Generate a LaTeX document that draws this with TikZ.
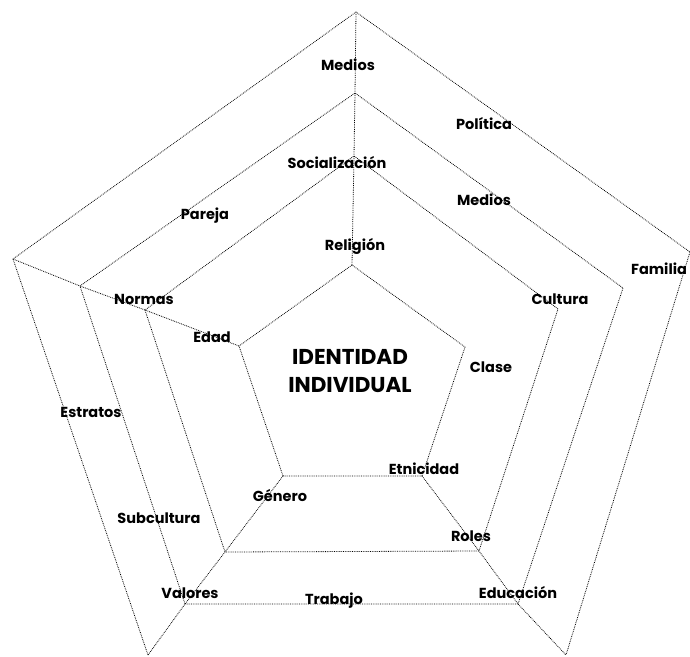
\documentclass[tikz,border=0pt]{standalone}
\usepackage{fontspec}
\setmainfont{Poppins}

\tikzset{
  ring/.style={densely dotted, line width=0.8pt},
  lbl/.style={font=\bfseries\fontsize{14.5}{16}\selectfont, inner sep=0pt},
  core/.style={font=\bfseries\fontsize{21.5}{28}\selectfont, align=center, inner sep=0pt}
}

\begin{document}
\begin{tikzpicture}[x=1pt,y=-1pt]
\useasboundingbox (0,0) rectangle (690,656);

%Corners
\coordinate (t4) at (356,12);
\coordinate (l4) at (13,259);
\coordinate (r4) at (690,252);
\coordinate (bl4) at (148,655);
\coordinate (br4) at (566,655);

\coordinate (t3) at (355,93);
\coordinate (l3) at (80,286);
\coordinate (r3) at (623,288);
\coordinate (bl3) at (185,604);
\coordinate (br3) at (518,604);

\coordinate (t2) at (354,156);
\coordinate (l2) at (145,310);
\coordinate (r2) at (558,309);
\coordinate (bl2) at (225,552);
\coordinate (br2) at (479,551);

\coordinate (t1) at (352,265);
\coordinate (l1) at (239,346);
\coordinate (r1) at (465,347);
\coordinate (bl1) at (283,476);
\coordinate (br1) at (422,476);

%Labels
\node[lbl] (medios4) at (348,65) {Medios};
\node[lbl] (politica) at (484,124) {Política};
\node[lbl] (familia) at (659,269) {Familia};
\node[lbl] (estratos) at (91,412) {Estratos};
\node[lbl] (valores) at (190,593) {Valores};
\node[lbl] (educacion) at (518,593) {Educación};

\node[lbl] (socializacion) at (337,163) {Socialización};
\node[lbl] (medios3) at (484,200) {Medios};
\node[lbl] (pareja) at (205,216) {Pareja};
\node[lbl] (cultura) at (560,299) {Cultura};
\node[lbl] (normas) at (144,299) {Normas};
\node[lbl] (subcultura) at (159,518) {Subcultura};
\node[lbl] (trabajo) at (334,601) {Trabajo};
\node[lbl] (roles) at (471,536) {Roles};

\node[lbl] (religion) at (355,246) {Religión};
\node[lbl] (edad) at (212,337) {Edad};
\node[lbl] (clase) at (491,367) {Clase};
\node[lbl] (etnicidad) at (424,469) {Etnicidad};
\node[lbl] (genero) at (280,496) {Género};

\node[core] (identidad) at (350,371) {IDENTIDAD\\INDIVIDUAL};

%Lines
\draw[ring] (bl4) -- (l4) -- (t4) -- (r4) -- (br4);
\draw[ring] (bl3) -- (l3) -- (t3) -- (r3) -- (br3) -- (bl3);
\draw[ring] (bl2) -- (l2) -- (t2) -- (r2) -- (br2) -- (bl2);
\draw[ring] (bl1) -- (l1) -- (t1) -- (r1) -- (br1) -- (bl1);

\draw[ring] (t1) -- (t2) -- (t3) -- (t4);
\draw[ring] (l1) -- (l2) -- (l3) -- (l4);
\draw[ring] (bl1) -- (bl2) -- (bl3) -- (bl4);
\draw[ring] (br1) -- (br2) -- (br3) -- (br4);
\end{tikzpicture}
\end{document}
